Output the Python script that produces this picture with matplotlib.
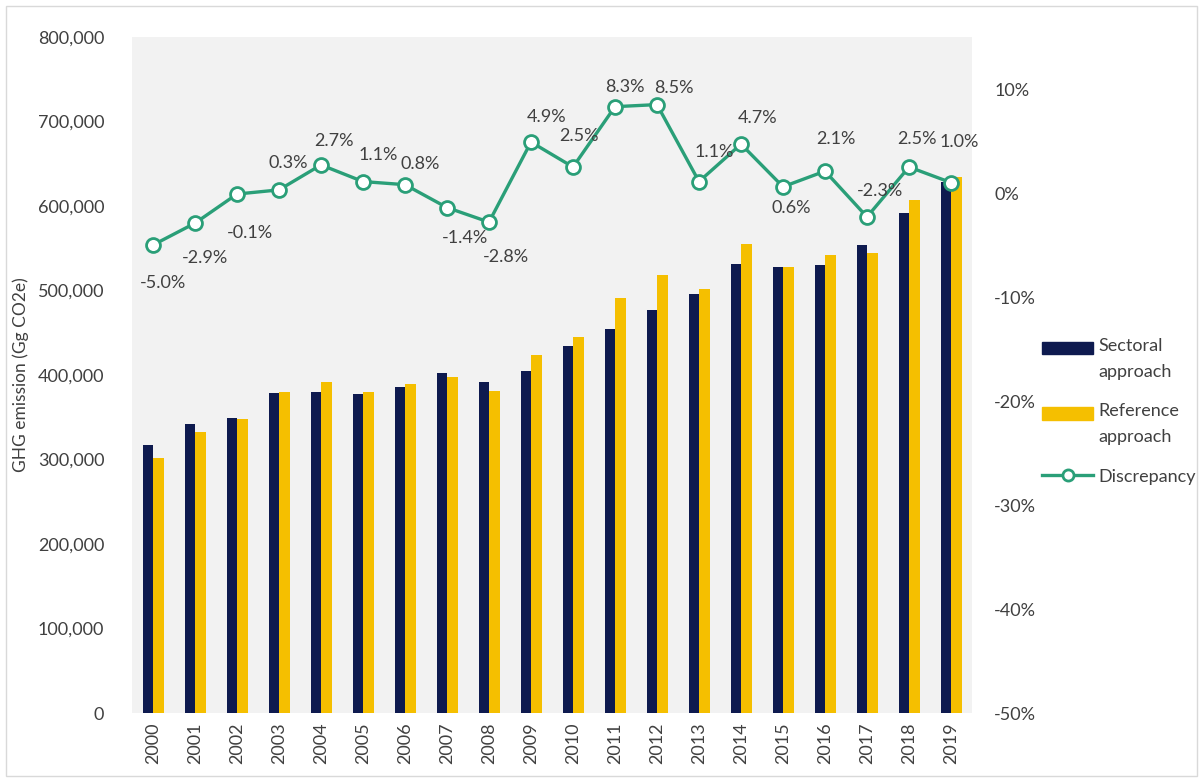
import numpy as np
import matplotlib.pyplot as plt
from matplotlib.patches import Rectangle
from matplotlib.lines import Line2D
from matplotlib.legend_handler import HandlerPatch
from matplotlib.ticker import FuncFormatter

plt.rcParams['font.family'] = ['Lato', 'DejaVu Sans']

# --- dados ---
anos = [str(a) for a in range(2000, 2020)]
setorial = [317200, 342000, 349100, 378700, 379900, 377500, 385800, 402400, 391700, 404700,
            434300, 454400, 476900, 495900, 531400, 527800, 530200, 553800, 591700, 628400]
referencia = [302000, 332500, 347900, 379900, 391500, 379900, 389300, 397600, 381100, 423700,
              444900, 491100, 518300, 501800, 555000, 527800, 542000, 544400, 607100, 634500]
discrepancia = [-5.0, -2.9, -0.1, 0.3, 2.7, 1.1, 0.8, -1.4, -2.8, 4.9,
                2.5, 8.3, 8.5, 1.1, 4.7, 0.6, 2.1, -2.3, 2.5, 1.0]

# deslocamento dos rótulos (pontos)
desloc = [(7, -27), (7, -25), (9, -28), (7, 19), (9, 17), (11, 19), (11, 15), (13, -22),
          (12, -25), (11, 18), (4, 22), (7, 14), (12, 12), (11, 21), (12, 19), (6, -15),
          (8, 23), (9, 19), (6, 20), (6, 29)]

cor_set = '#0e1a4f'
cor_ref = '#f5bf00'
cor_disc = '#2a9f78'
cor_txt = '#404040'

fig = plt.figure(figsize=(12.03, 7.81), dpi=100)
ax = fig.add_axes([132/1203, 1-713/781, 840/1203, 676/781])
ax.set_facecolor('#f2f2f2')

x = np.arange(len(anos))
w = 0.25
ax.bar(x - w/2, setorial, w, color=cor_set, zorder=2)
ax.bar(x + w/2, referencia, w, color=cor_ref, zorder=2)

ax.set_xlim(-0.5, len(anos) - 0.5)
ax.set_ylim(0, 800000)
ax.set_yticks(np.arange(0, 800001, 100000))
ax.yaxis.set_major_formatter(FuncFormatter(lambda v, p: f"{v:,.0f}"))
ax.set_xticks(x)
ax.set_xticklabels(anos, rotation=90)
ax.tick_params(axis='both', length=0, labelsize=13, labelcolor=cor_txt)
ax.tick_params(axis='y', pad=20)
ax.tick_params(axis='x', pad=7)
ax.set_ylabel("GHG emission (Gg CO2e)", fontsize=12.5, color=cor_txt, labelpad=6)
for s in ax.spines.values():
    s.set_visible(False)

ax2 = ax.twinx()
ax2.plot(x, discrepancia, color=cor_disc, lw=2.4, marker='o', ms=10,
         mfc='white', mec=cor_disc, mew=2, zorder=3)
ax2.set_ylim(-50, 15)
ax2.set_yticks(np.arange(-50, 11, 10))
ax2.yaxis.set_major_formatter(FuncFormatter(lambda v, p: f"{v:.0f}%"))
ax2.tick_params(axis='y', length=0, labelsize=13, labelcolor=cor_txt, pad=16)
for s in ax2.spines.values():
    s.set_visible(False)

for xi, d, (dx, dy) in zip(x, discrepancia, desloc):
    ax2.annotate(f"{d:.1f}%", (xi, d), xytext=(dx, dy), textcoords='offset points',
                 ha='center', va='center', fontsize=13, color=cor_txt)


# retângulo da legenda alinhado com a primeira linha do texto
def ret_topo(legend, orig_handle, xdescent, ydescent, width, height, fontsize):
    return Rectangle((-xdescent, -ydescent + 0.62 * fontsize), width, height)


h = [Rectangle((0, 0), 1, 1, color=cor_set),
     Rectangle((0, 0), 1, 1, color=cor_ref),
     Line2D([], [], color=cor_disc, lw=2.4, marker='o', ms=8, mfc='white', mec=cor_disc, mew=2)]
leg = fig.legend(h, ["Sectoral\napproach", "Reference\napproach", "Discrepancy"],
                 loc='upper left', bbox_to_anchor=(1026/1203, 1-322/781), frameon=False,
                 fontsize=13, handlelength=2.8, handletextpad=0.3, labelspacing=1.3,
                 labelcolor=cor_txt,
                 handler_map={Rectangle: HandlerPatch(patch_func=ret_topo)})
for t in leg.get_texts():
    t.set_linespacing(1.75)

# moldura externa
fig.patches.append(Rectangle((6/1203, 5/781), 1191/1203, 770/781, transform=fig.transFigure,
                             fill=False, edgecolor='#d9d9d9', lw=1))

fig.savefig("out.png", dpi=100)
